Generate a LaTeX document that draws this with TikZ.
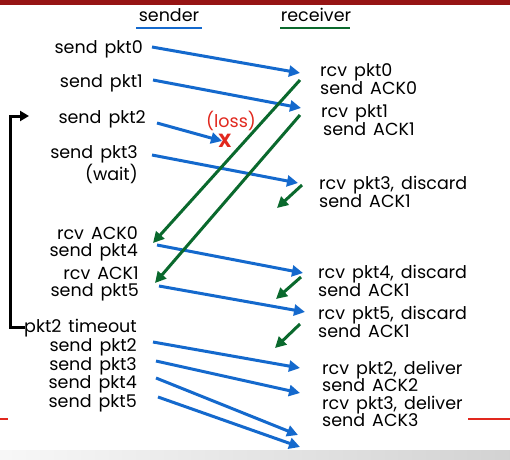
\documentclass[tikz,border=0pt]{standalone}
\usepackage{fontspec}
\setmainfont{Poppins}[WordSpace=1.5]
\usetikzlibrary{arrows.meta}
\definecolor{sblue}{RGB}{20,105,205}
\definecolor{rgreen}{RGB}{10,105,45}
\definecolor{barred}{RGB}{150,20,20}
\definecolor{lossred}{RGB}{225,40,30}
\begin{document}
\begin{tikzpicture}[x=1pt,y=-1pt,
  lbl/.style={inner sep=0pt,font=\fontsize{17.5}{17.5}\selectfont,align=right},
  rlbl/.style={inner sep=0pt,font=\fontsize{17.5}{17.5}\selectfont,align=left},
  pkt/.style={draw=sblue,line width=3pt,-{Triangle[length=11pt,width=11pt]},color=sblue},
  ack/.style={draw=rgreen,line width=3pt,-{Triangle[length=11pt,width=11pt]},color=rgreen},
  timer/.style={draw=black,line width=3pt}]
\useasboundingbox (0,0) rectangle (510,459);
\fill[white] (0,0) rectangle (510,459);
% slide decorations
\fill[barred] (0,0) rectangle (510,5);
\draw[lossred,line width=1.3pt] (0,419) -- (8,419);
\draw[lossred,line width=1.3pt] (468,419) -- (510,419);
\shade[left color=gray!6,right color=gray!35] (0,450) rectangle (510,459);
% headers
\node[lbl,anchor=center] (sender) at (169,15) {sender};
\node[lbl,anchor=center] (receiver) at (316,15) {receiver};
\draw[sblue,line width=1.8pt] (136,28) -- (202,28);
\draw[rgreen,line width=1.8pt] (280,28) -- (350,28);
% sender labels
\node[lbl,anchor=east] (s0) at (143,49) {send pkt0};
\node[lbl,anchor=east] (s1) at (143,83) {send pkt1};
\node[lbl,anchor=east] (s2) at (146,119) {send pkt2};
\node[lbl,anchor=east] (s3) at (138,165) {send pkt3\\(wait)};
\node[lbl,anchor=east] (a0) at (138,244) {rcv ACK0\\send pkt4};
\node[lbl,anchor=east] (a1) at (139,284) {rcv ACK1\\send pkt5};
\node[lbl,anchor=east] (to) at (137,328) {pkt2 timeout};
\node[lbl,anchor=east] (r2) at (137,347) {send pkt2};
\node[lbl,anchor=east] (r3) at (137,366) {send pkt3};
\node[lbl,anchor=east] (r4) at (137,384) {send pkt4};
\node[lbl,anchor=east] (r5) at (137,403) {send pkt5};
% receiver labels
\node[rlbl,anchor=west] (g0) at (320,79) {rcv pkt0\\send ACK0};
\node[rlbl,anchor=west] (g1) at (321,120) {rcv pkt1\\\hspace*{2pt}send ACK1};
\node[rlbl,anchor=west] (g3) at (319,192) {rcv pkt3, discard\\send ACK1};
\node[rlbl,anchor=west] (g4) at (318,281) {rcv pkt4, discard\\send ACK1};
\node[rlbl,anchor=west] (g5) at (318,322) {rcv pkt5, discard\\send ACK1};
\node[rlbl,anchor=west] (g6) at (322,394) {rcv pkt2, deliver\\send ACK2\\rcv pkt3, deliver\\send ACK3};
% loss marker
\node[inner sep=0pt,font=\fontsize{17.5}{17.5}\selectfont,text=lossred] (loss) at (231,121) {(loss)};
\node[inner sep=0pt,font=\bfseries\fontsize{19}{19}\selectfont,text=lossred] (x) at (225,141) {X};
% arrow endpoints
\coordinate (p0s) at (152,47);  \coordinate (p0e) at (300,73);
\coordinate (p1s) at (153,80);  \coordinate (p1e) at (301,108);
\coordinate (p2s) at (157,123); \coordinate (p2e) at (222,141);
\coordinate (p3s) at (152,155); \coordinate (p3e) at (298,183);
\coordinate (p4s) at (157,245); \coordinate (p4e) at (303,273);
\coordinate (p5s) at (159,286); \coordinate (p5e) at (305,312);
\coordinate (q2s) at (153,342); \coordinate (q2e) at (300,368);
\coordinate (q3s) at (156,361); \coordinate (q3e) at (300,393);
\coordinate (q4s) at (156,378); \coordinate (q4e) at (298,435);
\coordinate (q5s) at (158,397); \coordinate (q5e) at (300,447);
\coordinate (k0s) at (300,80);  \coordinate (k0e) at (153,243);
\coordinate (k1s) at (300,115); \coordinate (k1e) at (155,283);
\coordinate (k3s) at (302,185); \coordinate (k3e) at (277,208);
\coordinate (k4s) at (301,277); \coordinate (k4e) at (276,299);
\coordinate (k5s) at (300,324); \coordinate (k5e) at (275,348);
% packets
\draw[pkt] (p0s) -- (p0e);
\draw[pkt] (p1s) -- (p1e);
\draw[pkt] (p2s) -- (p2e);
\draw[pkt] (p3s) -- (p3e);
\draw[pkt] (p4s) -- (p4e);
\draw[pkt] (p5s) -- (p5e);
\draw[pkt] (q2s) -- (q2e);
\draw[pkt] (q3s) -- (q3e);
\draw[pkt] (q4s) -- (q4e);
\draw[pkt] (q5s) -- (q5e);
% acks
\draw[ack] (k0s) -- (k0e);
\draw[ack] (k1s) -- (k1e);
\draw[ack] (k3s) -- (k3e);
\draw[ack] (k4s) -- (k4e);
\draw[ack] (k5s) -- (k5e);
% timer
\coordinate (t0) at (29,116);
\coordinate (t1) at (25,327);
\draw[timer,-{Triangle[length=9pt,width=10pt]}] (t1) -| (10,116) -- (t0);
\end{tikzpicture}
\end{document}
